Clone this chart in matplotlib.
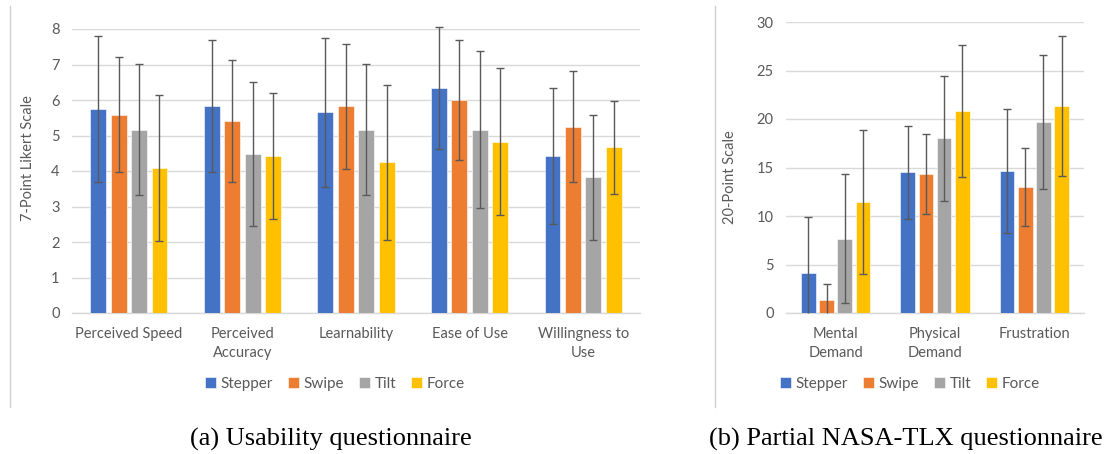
import matplotlib
matplotlib.use("Agg")
import matplotlib.pyplot as plt
import numpy as np
from matplotlib.lines import Line2D

plt.rcParams['font.family'] = ['Lato', 'DejaVu Sans']

series = ["Stepper", "Swipe", "Tilt", "Force"]
colors = ["#4472C4", "#ED7D31", "#A5A5A5", "#FFC000"]

usab_cats = ["Perceived Speed", "Perceived\nAccuracy", "Learnability", "Ease of Use", "Willingness to\nUse"]
usab_stepper = [5.75, 5.82, 5.66, 6.33, 4.42]
usab_swipe = [5.58, 5.41, 5.82, 6.00, 5.25]
usab_tilt = [5.16, 4.49, 5.16, 5.16, 3.83]
usab_force = [4.08, 4.42, 4.24, 4.83, 4.67]
usab_stepper_err = [2.06, 1.86, 2.10, 1.72, 1.92]
usab_swipe_err = [1.62, 1.73, 1.75, 1.70, 1.56]
usab_tilt_err = [1.85, 2.03, 1.85, 2.21, 1.76]
usab_force_err = [2.06, 1.78, 2.18, 2.08, 1.31]

tlx_cats = ["Mental\nDemand", "Physical\nDemand", "Frustration"]
tlx_stepper = [4.16, 14.50, 14.64]
tlx_swipe = [1.34, 14.33, 12.99]
tlx_tilt = [7.66, 18.00, 19.66]
tlx_force = [11.47, 20.82, 21.34]
tlx_stepper_err = [5.70, 4.80, 6.36]
tlx_swipe_err = [1.65, 4.08, 4.04]
tlx_tilt_err = [6.68, 6.46, 6.89]
tlx_force_err = [7.40, 6.82, 7.20]

W, H = 1105, 454
fig = plt.figure(figsize=(W / 100, H / 100), dpi=100)

text_color = "#595959"
grid_color = "#D9D9D9"
FS = 10.5


def px_axes(x0, y0, x1, y1):
    return fig.add_axes([x0 / W, 1 - y1 / H, (x1 - x0) / W, (y1 - y0) / H])


def draw(ax, cats, vals, errs, ymax, ystep, ylabel, bar_w, step):
    x = np.arange(len(cats))
    for i, (v, e, c, name) in enumerate(zip(vals, errs, colors, series)):
        off = (i - 1.5) * step
        ax.bar(x + off, v, width=bar_w, color=c, label=name, zorder=3,
               edgecolor="white", linewidth=0.4)
        low = np.minimum(np.array(e), np.array(v))  # error bars are cut at the axis
        eb = ax.errorbar(x + off, v, yerr=[low, e], fmt="none", ecolor="#595959",
                         elinewidth=1.0, capsize=3, capthick=1.0, zorder=4)
        for art in eb.lines[1] + eb.lines[2]:
            art.set_clip_on(False)
        caps = eb.lines[1]
        if caps:
            ydata = caps[0].get_ydata()
            mask = np.array(e) > np.array(v)
            if mask.any():
                ydata = np.where(mask, np.nan, ydata)
                caps[0].set_ydata(ydata)
    ax.set_xlim(-0.5, len(cats) - 0.5)
    ax.set_ylim(0, ymax)
    ax.set_yticks(np.arange(0, ymax + 0.01, ystep))
    ax.yaxis.grid(True, color=grid_color, linewidth=1.0, zorder=0)
    ax.set_axisbelow(True)
    for s in ax.spines.values():
        s.set_visible(False)
    ax.axhline(0, color=grid_color, linewidth=1.0, zorder=1, clip_on=False)
    ax.set_xticks(x)
    ax.set_xticklabels(cats)
    ax.tick_params(axis="both", length=0, colors=text_color, labelsize=FS)
    ax.tick_params(axis="y", pad=9)
    ax.tick_params(axis="x", pad=10)
    for lab in ax.get_xticklabels():
        lab.set_linespacing(1.45)
    ax.set_ylabel(ylabel, color=text_color, fontsize=FS)


ax1 = px_axes(72, 29, 640, 313)
draw(ax1, usab_cats,
     [usab_stepper, usab_swipe, usab_tilt, usab_force],
     [usab_stepper_err, usab_swipe_err, usab_tilt_err, usab_force_err],
     8, 1, "7-Point Likert Scale", 0.14, 0.18)
ax1.yaxis.set_label_coords(-0.066, 0.544)

ax2 = px_axes(786, 22, 1084, 313)
draw(ax2, tlx_cats,
     [tlx_stepper, tlx_swipe, tlx_tilt, tlx_force],
     [tlx_stepper_err, tlx_swipe_err, tlx_tilt_err, tlx_force_err],
     30, 5, "20-Point Scale", 0.148, 0.183)
ax2.yaxis.set_label_coords(-0.165, 0.467)

# legends
for ax, cx in ((ax1, 335), (ax2, 910)):
    h, l = ax.get_legend_handles_labels()
    fig.legend(h, l, loc="center", bbox_to_anchor=(cx / W, 1 - 384 / H), ncol=4,
               frameon=False, fontsize=FS + 0.5, handlelength=0.7, handleheight=0.7,
               handletextpad=0.3, columnspacing=1.0, labelcolor=text_color)

# chart frame edges
for xpx in (10, 715):
    fig.add_artist(Line2D([xpx / W, xpx / W], [1 - 6 / H, 1 - 407 / H],
                          color="#D0D0D0", linewidth=1.0))

# captions
fig.text(331 / W, 1 - 439 / H, "(a) Usability questionnaire", ha="center", va="center",
         family="Liberation Serif", fontsize=19, color="black")
fig.text(906 / W, 1 - 439 / H, "(b) Partial NASA-TLX questionnaire", ha="center", va="center",
         family="Liberation Serif", fontsize=19, color="black")

fig.savefig("out.png", dpi=100)
